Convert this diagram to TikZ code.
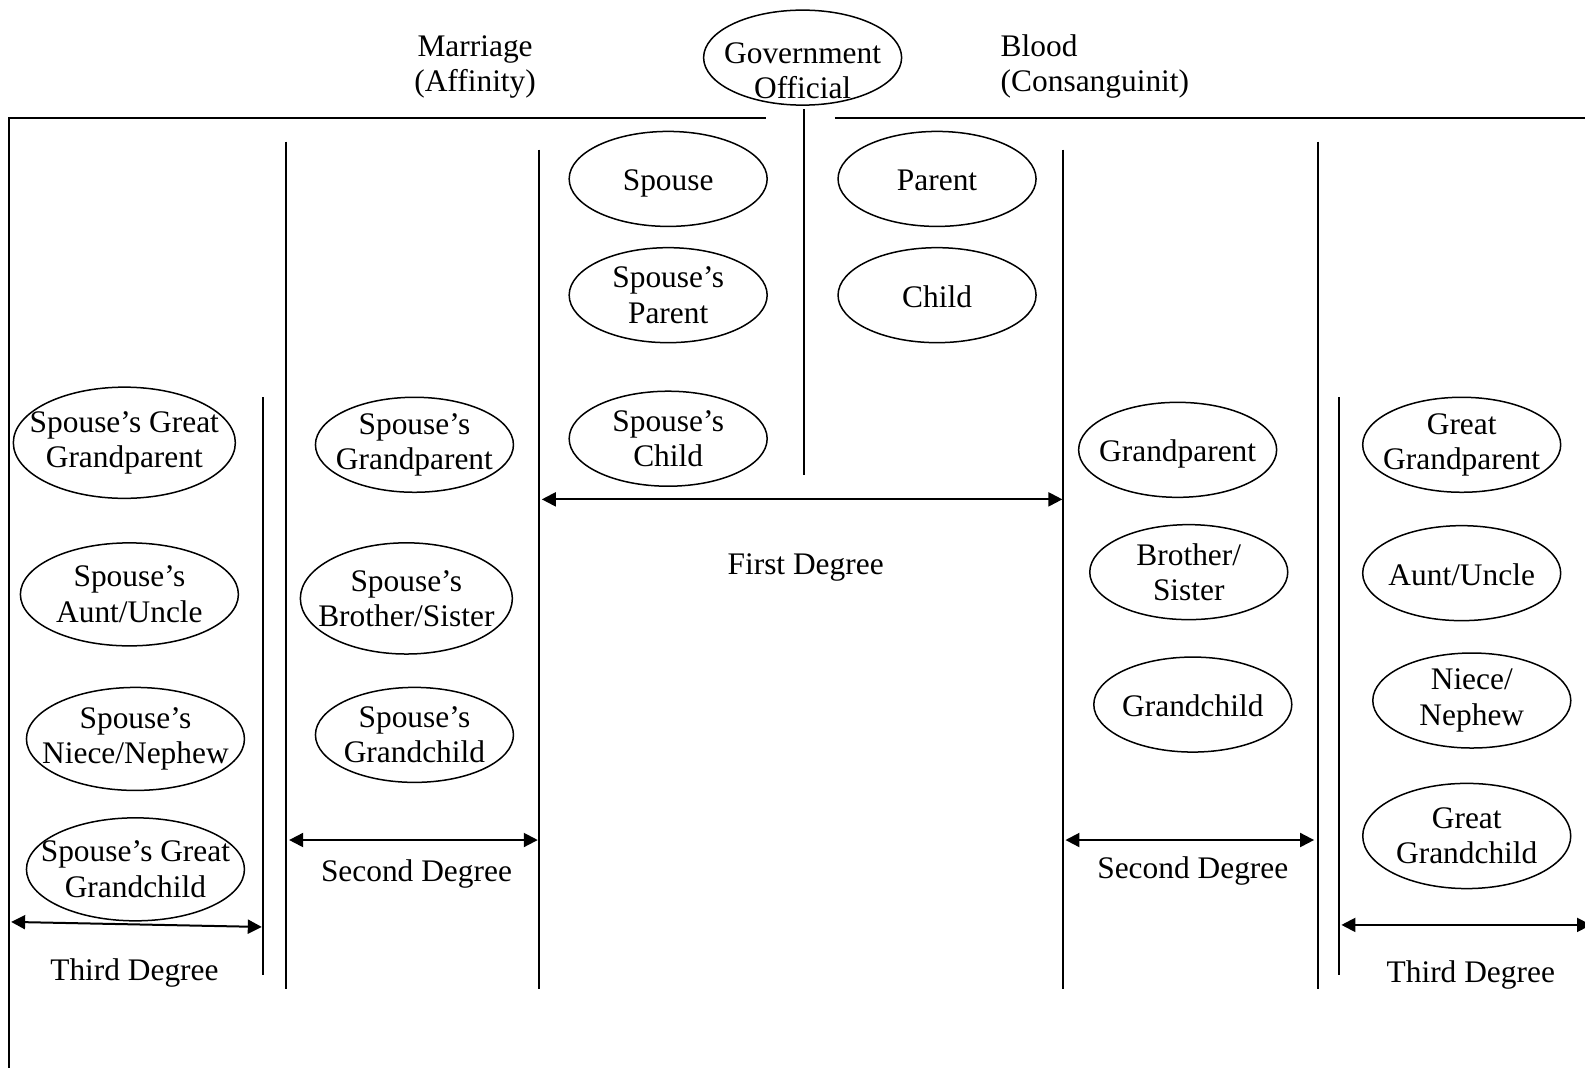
\documentclass[tikz,border=0pt]{standalone}
\usepackage{fontspec}
\setmainfont{Liberation Serif}
\usetikzlibrary{shapes.geometric,arrows.meta}
\tikzset{
  base/.style={draw=black, line width=1pt},
  deg/.style={draw=black, line width=1pt, {Triangle[length=7pt,width=7pt]}-{Triangle[length=7pt,width=7pt]}},
  oval/.style={draw=black, ellipse, line width=0.75pt, minimum width=99pt, minimum height=47.5pt, inner xsep=-12pt, inner ysep=-3pt, align=center, font=\fontsize{15.7}{17.7}\selectfont},
  single/.style={text height=13pt, text depth=1pt},
  lab/.style={font=\fontsize{15.7}{17.7}\selectfont, align=center},
}
\begin{document}
\begin{tikzpicture}[x=0.50542pt,y=-0.50542pt]
  \useasboundingbox (0,0) rectangle (1568,1055.57);
  % headings
  \node[oval, label={[lab, yshift=-6.6pt]center:Government\\Official}] (gov) at (794,57) {};
  \node[lab] (marr) at (470,66) {Marriage\\(Affinity)};
  \node[lab, align=left, anchor=west] (blood) at (983,66) {Blood\\(Consanguinit)};
  % frame lines
  \draw[base] (8,117) -- (758,117);
  \draw[base] (826,117) -- (1572,117);
  \draw[base] (9,117) -- (9,1060);
  \draw[base] (795,108) -- (795,470);
  \draw[base] (283,140) -- (283,978);
  \draw[base] (533,148) -- (533,978);
  \draw[base] (260,393) -- (260,965);
  \draw[base] (1052,148) -- (1052,978);
  \draw[base] (1304,140) -- (1304,978);
  \draw[base] (1325,393) -- (1325,965);
  % first degree
  \node[oval, single] (sp) at (661,177) {Spouse};
  \node[oval] (spp) at (661,292) {Spouse’s\\Parent};
  \node[oval] (spc) at (661,434) {Spouse’s\\Child};
  \node[oval, single] (par) at (927,177) {Parent};
  \node[oval, single] (chi) at (927,292) {Child};
  % second degree
  \node[oval] (spgp) at (410,440) {Spouse’s\\Grandparent};
  \node[oval, minimum width=106pt, minimum height=55.6pt] (spbs) at (402,592) {Spouse’s\\Brother/Sister};
  \node[oval] (spgc) at (410,727) {Spouse’s\\Grandchild};
  \node[oval, single] (gp) at (1165,445) {Grandparent};
  \node[oval] (bs) at (1176,566) {Brother/\\Sister};
  \node[oval, single] (gc) at (1180,697) {Grandchild};
  % third degree
  \node[oval, minimum width=111pt, minimum height=55.6pt] (spggp) at (123,438) {Spouse’s Great\\Grandparent};
  \node[oval, minimum width=109pt, minimum height=51.5pt] (spau) at (128,588) {Spouse’s\\Aunt/Uncle};
  \node[oval, minimum width=109pt, minimum height=51.5pt] (spnn) at (134,731) {Spouse’s\\Niece/Nephew};
  \node[oval, minimum width=109pt, minimum height=51.5pt] (spggc) at (134,860) {Spouse’s Great\\Grandchild};
  \node[oval] (ggp) at (1446,440) {Great\\Grandparent};
  \node[oval, single] (au) at (1446,567) {Aunt/Uncle};
  \node[oval] (nn) at (1456,693) {Niece/\\Nephew};
  \node[oval, minimum width=104pt, minimum height=52.6pt] (ggc) at (1451,827) {Great\\Grandchild};
  % degree arrows
  \draw[deg] (536,494) -- (1051,494);
  \node[lab] (first) at (797,561) {First Degree};
  \draw[deg] (286,831) -- (532,831);
  \node[lab] (secl) at (412,865) {Second Degree};
  \draw[deg] (1054,831) -- (1300,831);
  \node[lab] (secr) at (1180,862) {Second Degree};
  \draw[deg] (11,912) -- (259,917);
  \node[lab] (thirdl) at (133,963) {Third Degree};
  \draw[deg] (1327,915) -- (1574,915);
  \node[lab] (thirdr) at (1455,965) {Third Degree};
\end{tikzpicture}
\end{document}
